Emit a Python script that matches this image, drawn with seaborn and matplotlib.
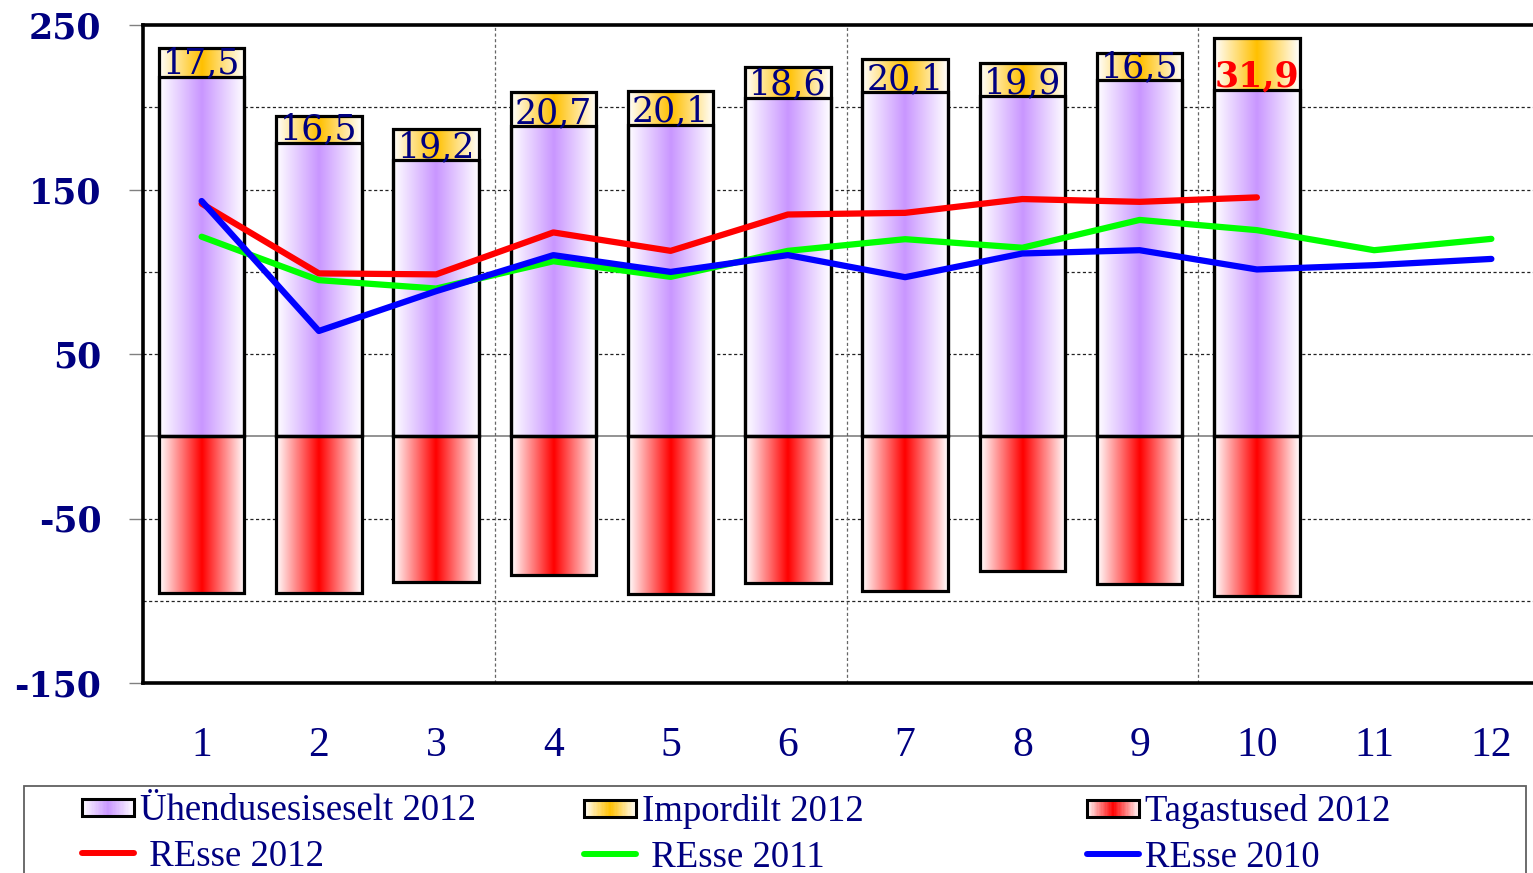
import numpy as np
import pandas as pd
import matplotlib
matplotlib.use("Agg")
import matplotlib.pyplot as plt
import matplotlib.colors as mcolors
from matplotlib.patches import Rectangle
from matplotlib.lines import Line2D
from matplotlib.legend_handler import HandlerBase
import seaborn as sns

# ---------------- data ----------------
months = [str(i) for i in range(1, 13)]
intra_2012 = [218.5, 178.3, 167.8, 188.3, 189.5, 205.8, 209.2, 206.8, 216.5, 210.5]
import_2012 = [17.5, 16.5, 19.2, 20.7, 20.1, 18.6, 20.1, 19.9, 16.5, 31.9]
returns_2012 = [-95.0, -95.3, -88.4, -84.5, -96.1, -89.2, -93.9, -82.1, -89.8, -97.1]
resse_2012 = [141.4, 99.0, 98.4, 123.9, 112.7, 134.8, 135.8, 144.2, 142.5, 145.2]
resse_2011 = [121.3, 94.9, 89.8, 106.4, 96.9, 112.7, 119.8, 114.6, 131.5, 125.3, 113.1, 120.0]
resse_2010 = [143.0, 64.0, 88.2, 110.1, 99.9, 110.1, 96.7, 111.1, 113.1, 101.4, 104.0, 107.8]
yticks = [250, 150, 50, -50, -150]

label_intra = "Ühendusesiseselt 2012"
label_import = "Impordilt 2012"
label_returns = "Tagastused 2012"
label_r12 = " REsse 2012"
label_r11 = " REsse 2011"
label_r10 = "REsse 2010"

NAVY = "#000080"
C_PURPLE = "#C996FF"
C_GOLD = "#FFC000"
C_RED = "#FF0000"

n = len(intra_2012)
bars = pd.DataFrame({
    "month": months[:n],
    "intra": intra_2012,
    "imp": import_2012,
    "ret": returns_2012,
})
bars["total"] = bars["intra"] + bars["imp"]

# ---------------- figure ----------------
sns.set_theme(style="white")
plt.rcParams["font.family"] = ["Liberation Serif", "DejaVu Serif"]

W, H = 1533, 873
fig = plt.figure(figsize=(W / 100, H / 100), dpi=100)
ax = fig.add_axes([143 / W, 1 - 683 / H, (1550 - 143) / W, (683 - 25) / H])


def grad_img(color, npts=256):
    u = np.linspace(0, 1, npts)
    t = 1 - np.abs(2 * u - 1)
    c = np.array(mcolors.to_rgb(color))
    img = (1 - t)[:, None] * np.ones(3)[None, :] + t[:, None] * c[None, :]
    return img[None, :, :]


def draw_bars(col, color, zimg):
    before = len(ax.patches)
    sns.barplot(data=bars, x="month", y=col, order=months, width=0.73,
                errorbar=None, ax=ax, color=color)
    new = ax.patches[before:]
    for p in new:
        p.set_facecolor("none")
        p.set_edgecolor("black")
        p.set_linewidth(2.3)
        p.set_zorder(3)
        x0, y0 = p.get_x(), p.get_y()
        w, h = p.get_width(), p.get_height()
        if not np.isfinite(h) or h == 0:
            continue
        ax.imshow(grad_img(color), extent=[x0, x0 + w, min(y0, y0 + h), max(y0, y0 + h)],
                  aspect="auto", zorder=zimg, interpolation="bilinear")


draw_bars("total", C_GOLD, 1.5)
draw_bars("intra", C_PURPLE, 1.6)
draw_bars("ret", C_RED, 1.6)

# lines
xpos = np.arange(len(months))
sns.lineplot(x=xpos[:len(resse_2012)], y=resse_2012, color=C_RED, linewidth=4.5,
             ax=ax, zorder=4, solid_capstyle="round")
sns.lineplot(x=xpos[:len(resse_2011)], y=resse_2011, color="#00FF00", linewidth=4.5,
             ax=ax, zorder=4.1, solid_capstyle="round")
sns.lineplot(x=xpos[:len(resse_2010)], y=resse_2010, color="#0000FF", linewidth=4.5,
             ax=ax, zorder=4.2, solid_capstyle="round")

# data labels for imported part
for i, (b, v) in enumerate(zip(intra_2012, import_2012)):
    last = i == n - 1
    ax.text(i, b + 2, f"{v:.1f}".replace(".", ","), ha="center", va="baseline",
            fontsize=25, family="DejaVu Serif",
            color=C_RED if last else NAVY, fontweight="bold" if last else "normal",
            zorder=5)

# grid lines
for v in range(-100, 250, 50):
    if v == 0:
        ax.axhline(v, color="#808080", lw=1.2, zorder=0.5)
    else:
        ax.axhline(v, color="#222222", lw=0.9, ls=(0, (2.5, 2)), zorder=0.5)
for xv in (2.5, 5.5, 8.5):
    ax.axvline(xv, color="#666666", lw=0.9, ls=(0, (2.5, 2)), zorder=0.5)

# axes
ax.set_xlim(-0.5, 11.5)
ax.set_ylim(-150, 250)
ax.set_yticks(yticks)
ax.set_yticklabels([str(t) for t in yticks], fontsize=25, color=NAVY,
                   family="DejaVu Serif", fontweight="bold")
ax.set_xticks(xpos)
ax.set_xticklabels(months, fontsize=30, color=NAVY, family="Liberation Serif")
ax.tick_params(axis="y", left=True, length=10, width=1, color="#808080", pad=20, direction="out")
ax.tick_params(axis="x", bottom=False, length=0, pad=31)
ax.set_xlabel("")
ax.set_ylabel("")
ax.grid(False)
for s in ("left", "bottom", "top"):
    ax.spines[s].set_visible(True)
    ax.spines[s].set_color("black")
    ax.spines[s].set_linewidth(2.6)
ax.spines["right"].set_visible(False)
ax.set_facecolor("white")


# ---------------- legend ----------------
class GradHandler(HandlerBase):
    def __init__(self, color):
        super().__init__()
        self.color = color

    def create_artists(self, legend, orig_handle, xdescent, ydescent, width, height,
                       fontsize, trans):
        hh = height * 0.66
        y0 = -ydescent + (height - hh) / 2
        x0 = -xdescent
        c = np.array(mcolors.to_rgb(self.color))
        arts = []
        N = 40
        for k in range(N):
            u = (k + 0.5) / N
            t = 1 - abs(2 * u - 1)
            col = (1 - t) * np.ones(3) + t * c
            arts.append(Rectangle((x0 + width * k / N, y0), width / N + 0.4, hh,
                                  facecolor=col, edgecolor="none", transform=trans))
        arts.append(Rectangle((x0, y0), width, hh, facecolor="none", edgecolor="black",
                              lw=2.2, transform=trans))
        return arts


h_intra = Rectangle((0, 0), 1, 1)
h_imp = Rectangle((0, 0), 1, 1)
h_ret = Rectangle((0, 0), 1, 1)
h_r12 = Line2D([], [], color=C_RED, lw=4.3, solid_capstyle="round")
h_r11 = Line2D([], [], color="#00FF00", lw=4.3, solid_capstyle="round")
h_r10 = Line2D([], [], color="#0000FF", lw=4.3, solid_capstyle="round")
hmap = {h_intra: GradHandler(C_PURPLE), h_imp: GradHandler(C_GOLD), h_ret: GradHandler(C_RED)}

fig.patches.append(Rectangle((24 / W, -0.05), (1526 - 24) / W, 0.05 + 1 - 786 / H,
                             transform=fig.transFigure, fill=False,
                             edgecolor="#606060", lw=1.3))

for xl, hs, ls in ((82, [h_intra, h_r12], [label_intra, label_r12]),
                   (584, [h_imp, h_r11], [label_import, label_r11]),
                   (1087, [h_ret, h_r10], [label_returns, label_r10])):
    leg = fig.legend(hs, ls, loc="upper left", bbox_to_anchor=(xl / W, 1 - 794 / H),
                     bbox_transform=fig.transFigure, frameon=False, borderpad=0,
                     borderaxespad=0, handlelength=1.42, handletextpad=0.16,
                     labelspacing=0.3, fontsize=26.5, handler_map=hmap)
    for t in leg.get_texts():
        t.set_color(NAVY)
        t.set_family("Liberation Serif")

fig.savefig("out.png", dpi=100)
